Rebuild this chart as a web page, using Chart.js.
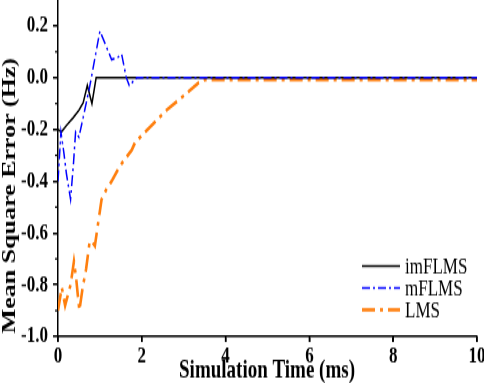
<!DOCTYPE html>
<html>
<head>
<meta charset="utf-8">
<script src="https://cdn.jsdelivr.net/npm/chart.js@4.4.1/dist/chart.umd.min.js"></script>
<style>
  html, body { margin: 0; padding: 0; background: #fff; }
</style>
</head>
<body>
<!-- drawn at 484x280 and stretched to 383 tall, like the original figure -->
<canvas id="mseChart" width="484" height="280" style="display:block;width:484px;height:383px"></canvas>
<script>
// imFLMS (black, solid)
const imflmsTime = [0, 0.08, 0.2, 0.36, 0.5, 0.6, 0.7, 0.81, 0.91, 10];
const imflmsMse = [-0.2, -0.21, -0.185, -0.155, -0.125, -0.097, -0.03, -0.1, 0, 0];

// mFLMS (blue, dash-dot)
const mflmsTime = [0, 0.07, 0.14, 0.2, 0.3, 0.37, 0.42, 0.5, 0.75, 1.0, 1.28, 1.44, 1.52, 1.63, 1.7, 1.88, 10];
const mflmsMse = [-0.4, -0.21, -0.29, -0.37, -0.47, -0.33, -0.21, -0.23, -0.04, 0.18, 0.07, 0.08, 0.09, 0, -0.03, 0, 0];

// LMS (orange, dash-dot)
const lmsTime = [0, 0.09, 0.17, 0.3, 0.38, 0.43, 0.51, 0.59, 0.67, 0.75, 0.8, 0.88, 0.96, 1.04, 1.16, 1.28, 1.48, 1.76, 1.84, 2.2, 2.6, 3.0, 3.35, 3.5, 10];
const lmsMse = [-0.9, -0.81, -0.88, -0.8, -0.71, -0.77, -0.9, -0.81, -0.74, -0.64, -0.63, -0.65, -0.56, -0.47, -0.43, -0.4, -0.34, -0.28, -0.25, -0.19, -0.124, -0.07, -0.02, -0.008, -0.008];

const seriesNames = ["imFLMS", "mFLMS", "LMS"];

const xTicks = [0, 2, 4, 6, 8, 10];
const xTickLabels = ["0", "2", "4", "6", "8", "10"];
const yTicks = [-1.0, -0.8, -0.6, -0.4, -0.2, 0.0, 0.2];
const yTickLabels = ["-1.0", "-0.8", "-0.6", "-0.4", "-0.2", "0.0", "0.2"];
const yMinorTicks = [-0.9, -0.7, -0.5, -0.3, -0.1, 0.1];

const xTitle = "Simulation Time (ms)";
const yTitle = "Mean Square Error (Hz)";

const toPoints = (xs, ys) => xs.map((x, i) => ({ x: x, y: ys[i] }));

// minor ticks, axis titles and the legend box
const extras = {
  id: "extras",
  afterDraw(chart) {
    const ctx = chart.ctx;
    const xScale = chart.scales.x;
    const yScale = chart.scales.y;
    const left = chart.chartArea.left;
    const bottom = chart.chartArea.bottom;

    ctx.save();
    ctx.strokeStyle = "#000";
    ctx.lineWidth = 1.2;
    yMinorTicks.forEach(v => {
      const py = yScale.getPixelForValue(v);
      ctx.beginPath();
      ctx.moveTo(left - 3, py);
      ctx.lineTo(left, py);
      ctx.stroke();
    });
    ctx.lineWidth = 1.5;
    xTicks.forEach(v => {
      const px = xScale.getPixelForValue(v);
      ctx.beginPath();
      ctx.moveTo(px, bottom);
      ctx.lineTo(px, bottom + 4);
      ctx.stroke();
    });

    ctx.fillStyle = "#000";
    ctx.font = "bold 19px 'Liberation Serif'";
    ctx.textAlign = "center";
    ctx.textBaseline = "alphabetic";
    ctx.fillText(xTitle, 267, 276);

    ctx.translate(10, 143);
    ctx.rotate(-Math.PI / 2);
    ctx.textBaseline = "middle";
    ctx.fillText(yTitle, 0, 0);
    ctx.restore();

    // legend
    ctx.save();
    ctx.font = "17px 'Liberation Serif'";
    ctx.textAlign = "left";
    ctx.textBaseline = "middle";
    const rows = [194.5, 210.5, 226.5];
    chart.data.datasets.forEach((ds, i) => {
      const y = rows[i];
      ctx.strokeStyle = ds.borderColor;
      ctx.lineWidth = ds.borderWidth;
      ctx.setLineDash(ds.borderDash || []);
      ctx.beginPath();
      ctx.moveTo(362, y);
      ctx.lineTo(400, y);
      ctx.stroke();
      ctx.setLineDash([]);
      ctx.fillStyle = "#000";
      ctx.fillText(ds.label, 405, y + 1);
    });
    ctx.restore();
  }
};

new Chart(document.getElementById("mseChart"), {
  type: "line",
  data: {
    datasets: [
      {
        label: seriesNames[0],
        data: toPoints(imflmsTime, imflmsMse),
        borderColor: "#000000",
        borderWidth: 1.5,
        order: 2
      },
      {
        label: seriesNames[1],
        data: toPoints(mflmsTime, mflmsMse),
        borderColor: "#0000ff",
        borderWidth: 1.5,
        borderDash: [8, 3, 2, 3],
        order: 1
      },
      {
        label: seriesNames[2],
        data: toPoints(lmsTime, lmsMse),
        borderColor: "#ff7f0e",
        borderWidth: 2.6,
        borderDash: [13, 5, 3, 5],
        order: 3
      }
    ]
  },
  options: {
    responsive: false,
    animation: false,
    devicePixelRatio: 1,
    layout: { padding: { top: 0, right: 7, left: 0, bottom: 0 } },
    elements: {
      point: { radius: 0 },
      line: { tension: 0, fill: false }
    },
    plugins: {
      legend: { display: false },
      title: { display: false },
      tooltip: { enabled: false }
    },
    scales: {
      x: {
        type: "linear",
        min: 0,
        max: 10,
        afterBuildTicks: scale => { scale.ticks = xTicks.map(v => ({ value: v })); },
        afterFit: scale => {
          scale.height = 34;
          scale.paddingLeft = 0;
          scale.paddingRight = 0;
        },
        ticks: {
          callback: (v, i) => xTickLabels[i],
          color: "#000",
          padding: 0,
          maxRotation: 0,
          font: { family: "'Liberation Serif'", size: 17, weight: "bold" }
        },
        grid: { drawOnChartArea: false, tickLength: 4, color: "#000", lineWidth: 1.5 },
        border: { color: "#000", width: 1.5 }
      },
      y: {
        type: "linear",
        min: -1.0,
        max: 0.3,
        afterBuildTicks: scale => { scale.ticks = yTicks.map(v => ({ value: v })); },
        afterFit: scale => {
          scale.width = 58;
          scale.paddingTop = 0;
          scale.paddingBottom = 0;
        },
        ticks: {
          callback: (v, i) => yTickLabels[i],
          color: "#000",
          padding: 5,
          font: { family: "'Liberation Serif'", size: 17, weight: "bold" }
        },
        grid: { drawOnChartArea: false, tickLength: 5, color: "#000", lineWidth: 1.5 },
        border: { color: "#000", width: 1.5 }
      }
    }
  },
  plugins: [extras]
});
</script>
</body>
</html>
